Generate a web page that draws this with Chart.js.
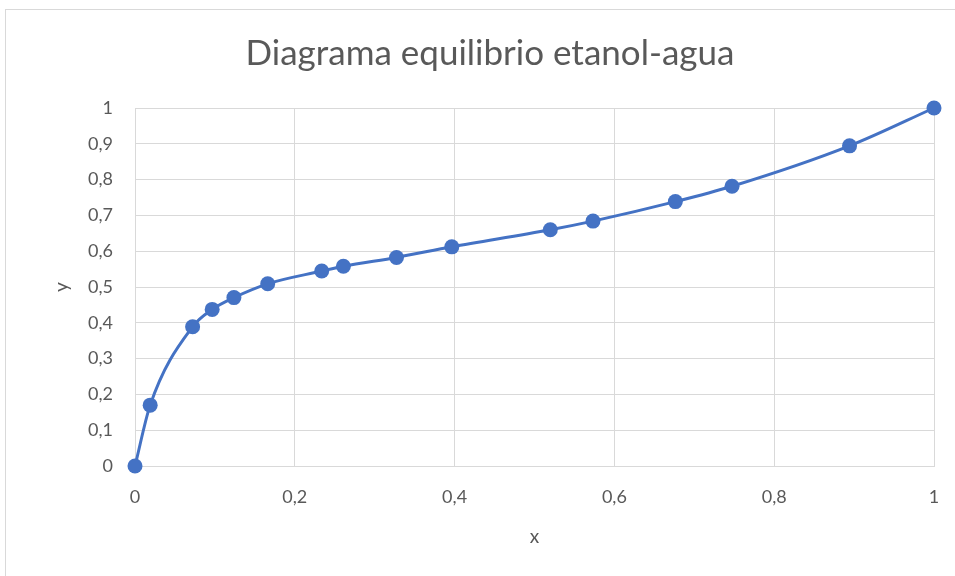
<!DOCTYPE html>
<html>
<head>
<meta charset="utf-8">
<script src="https://cdn.jsdelivr.net/npm/chart.js@4/dist/chart.umd.min.js"></script>
<style>
  html, body { margin: 0; padding: 0; background: #fff; }
  #wrap { position: relative; width: 955px; height: 576px; overflow: hidden; }
  #frame { position: absolute; left: 5px; top: 9px; width: 1000px; height: 1000px;
           border: 1px solid #d9d9d9; box-sizing: border-box; pointer-events: none; }
  canvas { position: absolute; left: 0; top: 0; }
</style>
</head>
<body>
<div id="wrap">
  <canvas id="c" width="955" height="576"></canvas>
  <div id="frame"></div>
</div>
<script>
// Ethanol-water vapour-liquid equilibrium (mole fractions)
const xLiquid = [0, 0.019, 0.0721, 0.0966, 0.1238, 0.1661, 0.2337, 0.2608, 0.3273, 0.3965, 0.5198, 0.5732, 0.6763, 0.7472, 0.8943, 1];
const yVapour = [0, 0.17, 0.3891, 0.4375, 0.4704, 0.5089, 0.5445, 0.558, 0.5826, 0.6122, 0.6599, 0.6841, 0.7385, 0.7815, 0.8943, 1];

const chartTitle = 'Diagrama equilibrio etanol-agua';
const xTitle = 'x';
const yTitle = 'y';

const points = xLiquid.map((x, i) => ({ x: x, y: yVapour[i] }));
const fmt = v => String(Math.round(v * 10) / 10).replace('.', ',');

const FONT = 'Lato, "Open Sans", sans-serif';
const TEXT = '#595959';
const GRID = '#d9d9d9';

new Chart(document.getElementById('c'), {
  type: 'scatter',
  data: {
    datasets: [{
      data: points,
      showLine: true,
      clip: false,
      borderColor: '#4472C4',
      backgroundColor: '#4472C4',
      borderWidth: 3,
      pointRadius: 7.5,
      pointHoverRadius: 7.5,
      pointBorderWidth: 0,
      tension: 0.4,
      cubicInterpolationMode: 'monotone'
    }]
  },
  options: {
    responsive: false,
    animation: false,
    devicePixelRatio: 1,
    layout: { padding: { left: 46, right: 21, top: 0, bottom: 28 } },
    plugins: {
      legend: { display: false },
      tooltip: { enabled: false },
      title: {
        display: true,
        text: chartTitle,
        color: TEXT,
        font: { family: FONT, size: 35, weight: 'normal' },
        padding: { top: 33, bottom: 33 }
      }
    },
    scales: {
      x: {
        type: 'linear',
        min: 0, max: 1,
        ticks: { stepSize: 0.2, color: TEXT, font: { family: FONT, size: 18 }, padding: 20, callback: v => fmt(v) },
        grid: { color: GRID, lineWidth: 1, drawTicks: false },
        border: { color: GRID },
        title: { display: true, text: xTitle, color: TEXT, font: { family: FONT, size: 19 }, padding: { top: 10, bottom: 0 } },
        afterFit: s => { s.height = 82; s.paddingLeft = 0; s.paddingRight = 0; }
      },
      y: {
        type: 'linear',
        min: 0, max: 1,
        ticks: { stepSize: 0.1, color: TEXT, font: { family: FONT, size: 18 }, padding: 22, callback: v => fmt(v) },
        grid: { color: GRID, lineWidth: 1, drawTicks: false },
        border: { color: GRID },
        title: { display: true, text: yTitle, color: TEXT, font: { family: FONT, size: 19 }, padding: { top: 4, bottom: 0 } },
        afterFit: s => { s.width = 89; s.paddingTop = 0; s.paddingBottom = 0; }
      }
    }
  }
});
</script>
</body>
</html>
